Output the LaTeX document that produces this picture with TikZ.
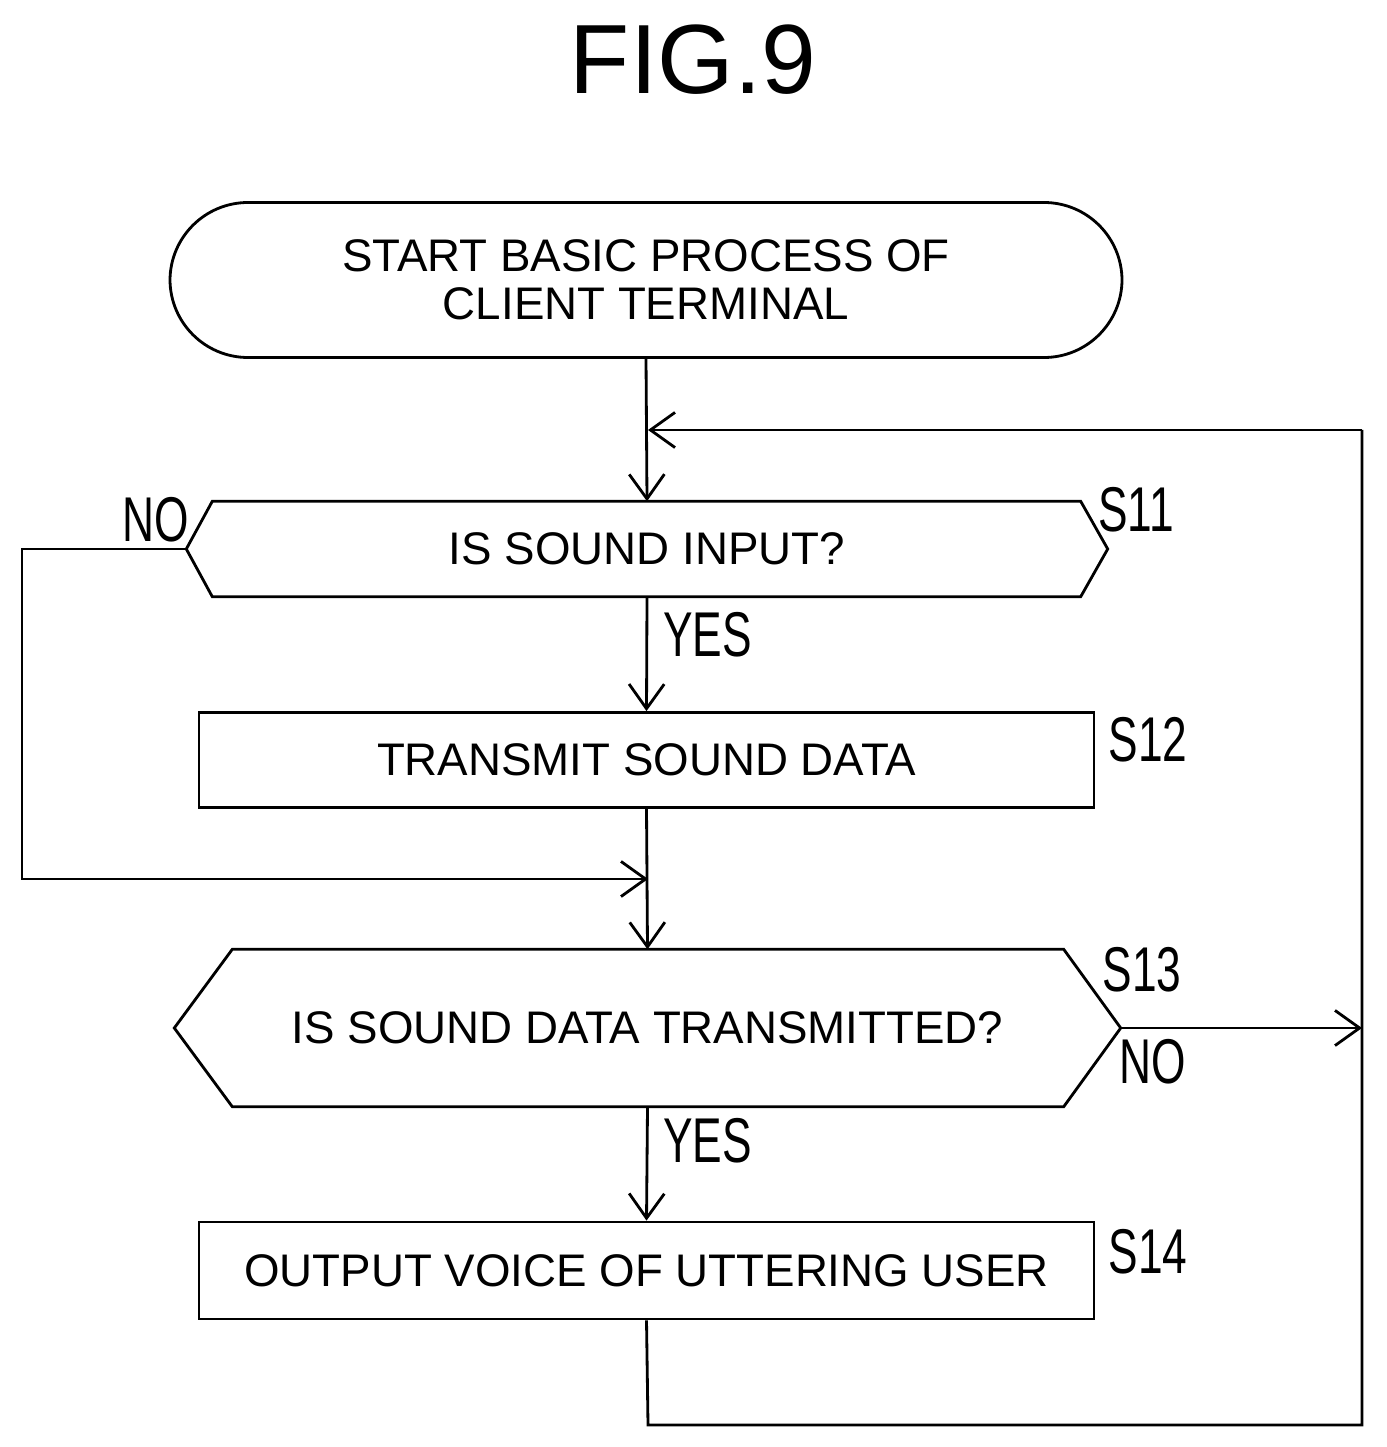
\documentclass[tikz,border=0pt]{standalone}
\usepackage{fontspec}
\setmainfont{Liberation Sans}
\usetikzlibrary{arrows.meta,positioning,calc}
\tikzset{
	term/.style={rounded corners=0.78cm,draw,thick,minimum width=9.52cm,minimum height=1.55cm,align=center,font=\fontsize{13}{13.5}\selectfont},
	proc/.style={rectangle,draw,thick,minimum width=8.95cm,minimum height=0.95cm,font=\fontsize{13}{15}\selectfont},
	dec/.style={rectangle,minimum height=0.94cm,font=\fontsize{13}{15}\selectfont},
	steplabel/.style={font=\fontsize{18}{20}\selectfont,xscale=0.7},
	flow/.style={thick,-{Straight Barb[length=7pt,width=10pt]}},
	line/.style={thick}
}
\begin{document}
\begin{tikzpicture}
\useasboundingbox (0,0) rectangle (13.86,-14.47);
\node[font=\fontsize{28}{30}\selectfont] (title) at (6.93,-0.6) {FIG.9};
%%% start
\node[term] (start) at (6.46,-2.8) {START BASIC PROCESS OF\\CLIENT TERMINAL};
%%% S11
\node[dec,minimum width=9.2cm] (s11) at (6.47,-5.49) {IS SOUND INPUT?};
\draw[line] (s11.west) -- ([xshift=0.26cm]s11.north west) -- ([xshift=-0.27cm]s11.north east)
	-- (s11.east) -- ([xshift=-0.27cm]s11.south east) -- ([xshift=0.26cm]s11.south west) -- cycle;
\node[steplabel] (l11) at (11.36,-5.1) {S11};
%%% S12
\node[proc] (s12) at (6.465,-7.6) {TRANSMIT SOUND DATA};
\node[steplabel] (l12) at (11.48,-7.4) {S12};
%%% S13
\node[dec,minimum width=9.45cm,minimum height=1.56cm] (s13) at (6.475,-10.28) {IS SOUND DATA TRANSMITTED?};
\draw[line] (s13.west) -- ([xshift=0.58cm]s13.north west) -- ([xshift=-0.57cm]s13.north east)
	-- (s13.east) -- ([xshift=-0.57cm]s13.south east) -- ([xshift=0.58cm]s13.south west) -- cycle;
\node[steplabel] (l13) at (11.42,-9.7) {S13};
%%% S14
\node[proc,minimum height=0.97cm] (s14) at (6.465,-12.705) {OUTPUT VOICE OF UTTERING USER};
\node[steplabel] (l14) at (11.48,-12.52) {S14};
%%% corners
\coordinate (loopin) at (6.48,-4.3);
\coordinate (loopr) at (13.62,-4.3);
\coordinate (noin) at (6.48,-8.79);
\coordinate (nol) at (0.22,-8.79);
\coordinate (s13out) at (13.62,-10.28);
\coordinate (botl) at (6.48,-14.25);
\coordinate (botr) at (13.62,-14.25);
%%% flow
\draw[flow] (start.south) -- (s11.north);
\draw[flow] (s11.south) -- node[steplabel,right=2pt,pos=0.33] {YES} (s12.north);
\draw[flow] (s12.south) -- (s13.north);
\draw[flow] (s13.south) -- node[steplabel,right=2pt,pos=0.3] {YES} (s14.north);
\draw[flow] (s11.west) -- (s11.west -| nol) -- (nol) -- (noin);
\node[steplabel] (no11) at (1.56,-5.2) {NO};
\draw[flow] (s13.east) -- (s13out);
\node[steplabel] (no13) at (11.53,-10.62) {NO};
\draw[line] (s14.south) -- (botl) -- (botr) -- (loopr);
\draw[flow] (loopr) -- (loopin);
\end{tikzpicture}
\end{document}
